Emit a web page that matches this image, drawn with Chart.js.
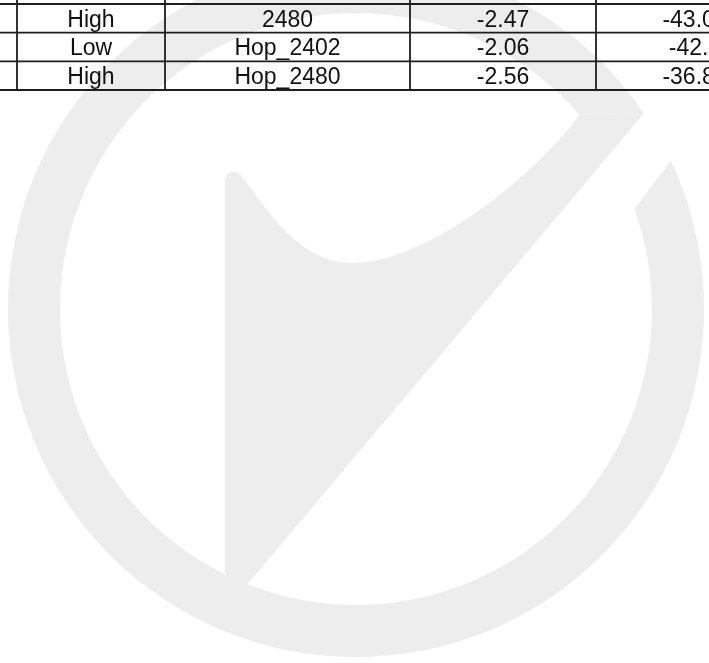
<!DOCTYPE html>
<html>
<head>
<meta charset="utf-8">
<script src="https://cdn.jsdelivr.net/npm/chart.js@4.4.1/dist/chart.umd.min.js"></script>
<style>
  html, body { margin: 0; padding: 0; background: #fff; }
  canvas { display: block; }
</style>
</head>
<body>
<canvas id="tableChart" width="709" height="663"></canvas>
<script>
// visible rows of the table (the crop cuts it at the top and right)
const levels = ['High', 'Low', 'High'];
const channels = ['2480', 'Hop_2402', 'Hop_2480'];
const gainValues = ['-2.47', '-2.06', '-2.56'];
const powerValues = ['-43.05', '-42.1', '-36.85'];

// table layout, page pixels
const colEdges = [17, 165, 410, 596, 794];
const rowEdges = [4, 32.7, 61.4, 90];

// watermark geometry
const logoCenter = { x: 356, y: 309 };
const ringOuter = 348;
const ringInner = 296;
const deg = Math.PI / 180;

const watermark = {
    id: 'watermark',
    beforeDatasetsDraw(chart) {
        const { ctx, scales: { x, y } } = chart;
        const px = v => x.getPixelForValue(v);
        const py = v => y.getPixelForValue(v);
        const cx = px(logoCenter.x), cy = py(logoCenter.y);

        ctx.save();
        ctx.fillStyle = '#ededed';

        // ring, open at the top right
        ctx.beginPath();
        ctx.arc(cx, cy, ringOuter, -25.2 * deg, 325.8 * deg, false);
        ctx.arc(cx, cy, ringInner, 319.05 * deg, -19.8 * deg, true);
        ctx.closePath();
        ctx.fill();

        // tick shape inside the ring
        const outEnd = [cx + ringOuter * Math.cos(-34.2 * deg), cy + ringOuter * Math.sin(-34.2 * deg)];
        const inEnd = [cx + ringInner * Math.cos(-40.95 * deg), cy + ringInner * Math.sin(-40.95 * deg)];
        ctx.beginPath();
        ctx.moveTo(outEnd[0], outEnd[1]);
        ctx.lineTo(px(246), py(586));
        ctx.lineTo(px(225), py(575));
        ctx.lineTo(px(225), py(180));
        ctx.quadraticCurveTo(px(225), py(170), px(238), py(172));
        ctx.bezierCurveTo(px(262), py(200), px(295), py(263), px(352), py(263));
        ctx.bezierCurveTo(px(420), py(263), px(522), py(190), inEnd[0], inEnd[1]);
        ctx.closePath();
        ctx.fill();
        ctx.restore();
    }
};

const tableGrid = {
    id: 'tableGrid',
    afterDraw(chart) {
        const { ctx, scales: { x, y } } = chart;
        const px = v => x.getPixelForValue(v);
        const py = v => y.getPixelForValue(v);
        const columns = [levels, channels, gainValues, powerValues];

        ctx.save();
        ctx.strokeStyle = '#1e1e1e';
        ctx.lineWidth = 1.8;
        rowEdges.forEach(r => {
            ctx.beginPath();
            ctx.moveTo(0, py(r));
            ctx.lineTo(chart.width, py(r));
            ctx.stroke();
        });
        colEdges.forEach(c => {
            ctx.beginPath();
            ctx.moveTo(px(c), 0);
            ctx.lineTo(px(c), py(rowEdges[rowEdges.length - 1]));
            ctx.stroke();
        });

        ctx.fillStyle = '#111';
        ctx.font = '23px "Liberation Sans", Arial, sans-serif';
        ctx.textAlign = 'center';
        ctx.textBaseline = 'alphabetic';
        columns.forEach((col, i) => {
            const mid = (colEdges[i] + colEdges[i + 1]) / 2;
            col.forEach((txt, j) => {
                const rowMid = (rowEdges[j] + rowEdges[j + 1]) / 2;
                ctx.fillText(txt, px(mid), py(rowMid) + 8.4);
            });
        });
        ctx.restore();
    }
};

new Chart(document.getElementById('tableChart'), {
    type: 'scatter',
    data: { datasets: [] },
    options: {
        responsive: false,
        animation: false,
        events: [],
        layout: { padding: 0 },
        plugins: {
            legend: { display: false },
            tooltip: { enabled: false }
        },
        scales: {
            x: { type: 'linear', min: 0, max: 709, display: false },
            y: { type: 'linear', min: 0, max: 663, reverse: true, display: false }
        }
    },
    plugins: [watermark, tableGrid]
});
</script>
</body>
</html>
